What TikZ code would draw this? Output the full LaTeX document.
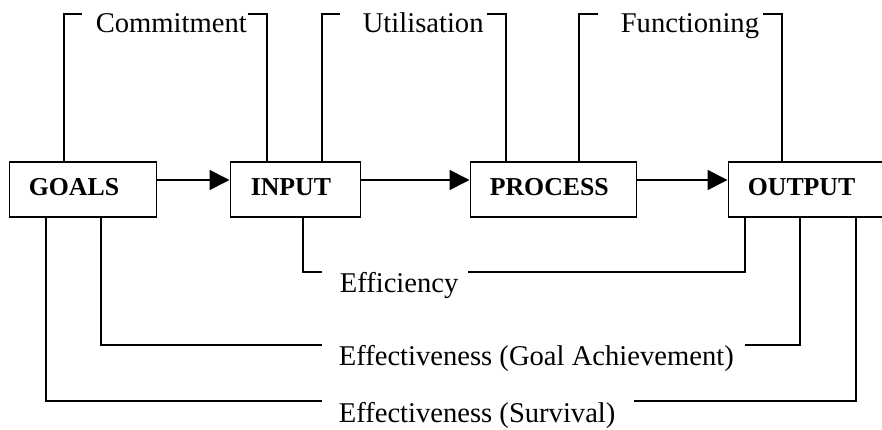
\documentclass[tikz,border=0pt]{standalone}
\usepackage{fontspec}
\setmainfont{Liberation Serif}
\usetikzlibrary{arrows.meta}
\begin{document}
\begin{tikzpicture}[x=1pt,y=-1pt,line width=1.6pt,
  box/.style={draw,line width=1.6pt,anchor=north west,minimum height=54.5pt,inner sep=0pt},
  boxlabel/.style={anchor=base west,inner sep=0pt,font=\fontsize{25.8}{28}\selectfont\bfseries},
  lbl/.style={anchor=base west,inner sep=0pt,font=\fontsize{28.6}{32}\selectfont},
  arr/.style={-{Triangle[length=20pt,width=20pt]}}]
\clip (0,0) rectangle (882,430);
% boxes
\node[box,minimum width=147pt] (goals) at (8.5,161.5) {};
\node[box,minimum width=130pt] (input) at (229.5,161.5) {};
\node[box,minimum width=166pt] (process) at (469.5,161.5) {};
\node[box,minimum width=200pt] (output) at (727.5,161.5) {};
\node[boxlabel] (goalsT) at (28,196) {GOALS};
\node[boxlabel] (inputT) at (250,196) {INPUT};
\node[boxlabel] (processT) at (489,196) {PROCESS};
\node[boxlabel] (outputT) at (747,196) {OUTPUT};
% main arrows
\draw[arr] (goals.east |- 0,180) -- (input.west |- 0,180);
\draw[arr] (input.east |- 0,180) -- (process.west |- 0,180);
\draw[arr] (process.east |- 0,180) -- (output.west |- 0,180);
% top labels
\node[lbl] (commit) at (95,32.5) {Commitment};
\node[lbl] (util) at (362,32.5) {Utilisation};
\node[lbl] (func) at (620,32.5) {Functioning};
% bottom labels
\node[lbl] (eff) at (339,292) {Efficiency};
\node[lbl] (goalach) at (338,365.5) {Effectiveness (Goal Achievement)};
\node[lbl] (surv) at (338,422.5) {Effectiveness (Survival)};
% top brackets
\draw ([xshift=55.5pt]goals.north west) |- (82,14);
\draw (248,14) -| ([xshift=37.5pt]input.north west);
\draw ([xshift=92.5pt]input.north west) |- (340,14);
\draw (487,14) -| ([xshift=36.5pt]process.north west);
\draw ([xshift=109.5pt]process.north west) |- (598,14);
\draw (763,14) -| ([xshift=54.5pt]output.north west);
% bottom brackets
\draw ([xshift=73.5pt]input.south west) |- (322,272);
\draw (468,272) -| ([xshift=17.5pt]output.south west);
\draw ([xshift=92.5pt]goals.south west) |- (322,345);
\draw (745,345) -| ([xshift=72.5pt]output.south west);
\draw ([xshift=37.5pt]goals.south west) |- (322,401);
\draw (634,401) -| ([xshift=128.5pt]output.south west);
\end{tikzpicture}
\end{document}
